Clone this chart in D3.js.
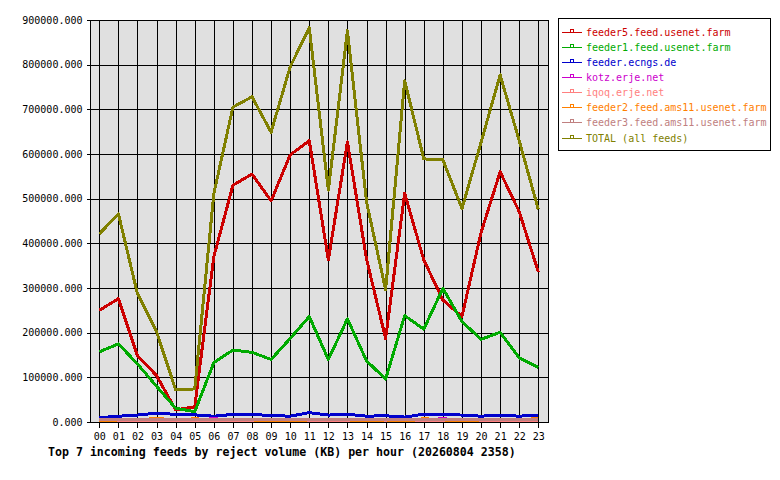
<!DOCTYPE html>
<html>
<head>
<meta charset="utf-8">
<script src="https://cdn.jsdelivr.net/npm/d3@7/dist/d3.min.js"></script>
<style>
  html, body { margin: 0; padding: 0; background: #fff; }
  svg { display: block; }
  text { font-family: "DejaVu Sans Mono", "Liberation Mono", monospace; }
</style>
</head>
<body>
<svg id="chart" width="780" height="480"></svg>
<script>
// ---- data ----
const hours = ["00","01","02","03","04","05","06","07","08","09","10","11",
               "12","13","14","15","16","17","18","19","20","21","22","23"];

const yTicks = [0, 100000, 200000, 300000, 400000, 500000, 600000, 700000, 800000, 900000];

const feedNames = [
  "feeder5.feed.usenet.farm",
  "feeder1.feed.usenet.farm",
  "feeder.ecngs.de",
  "kotz.erje.net",
  "iqoq.erje.net",
  "feeder2.feed.ams11.usenet.farm",
  "feeder3.feed.ams11.usenet.farm",
  "TOTAL (all feeds)"
];

const feedColors = ["#cc0000", "#00aa00", "#0000cc", "#cc00cc", "#ff8080", "#ff8000", "#c08080", "#808000"];

const feeder5 = [250000, 276000, 148000, 104000, 27000, 34000, 370000, 530000, 555000, 495000, 598000, 630000,
                 363000, 627000, 365000, 187000, 512000, 363000, 273000, 236000, 424000, 560000, 471000, 336000];
const feeder1 = [157000, 175000, 130000, 80000, 31000, 23000, 133000, 161000, 156000, 140000, 187000, 236000,
                 140000, 231000, 137000, 96000, 238000, 208000, 299000, 225000, 185000, 201000, 144000, 122000];
const ecngs   = [9500, 13000, 15500, 20000, 17000, 16000, 13000, 17000, 17000, 14500, 13000, 21000,
                 15500, 17500, 13000, 14000, 11000, 17500, 17500, 15500, 13000, 15500, 13000, 15500];
const kotz    = [3500, 3800, 3600, 3900, 3700, 3800, 7600, 3900, 3800, 3600, 3700, 3900,
                 3800, 3700, 3600, 3800, 3700, 3900, 7600, 3800, 3700, 3600, 3800, 3700];
const iqoq    = [3000, 3100, 2900, 3200, 3100, 3000, 3100, 3200, 3000, 3100, 2900, 3100,
                 3000, 3200, 3100, 3000, 3100, 2900, 3100, 3000, 3200, 3100, 3000, 3100];
const feeder2 = [1200, 4800, 4900, 7800, 4800, 7200, 4900, 4800, 4900, 1300, 1200, 4900,
                 4800, 4900, 1200, 4800, 1300, 7400, 4900, 1200, 4800, 4900, 4800, 7800];
const feeder3 = [5000, 4900, 5000, 4900, 5000, 4900, 5000, 4900, 5000, 4900, 5000, 4900,
                 5000, 4900, 5000, 4900, 5000, 4900, 5000, 4900, 5000, 4900, 5000, 4900];
const total   = [421000, 466000, 287000, 202000, 72000, 74000, 511000, 705000, 728000, 649000, 795000, 883000,
                 519000, 876000, 493000, 296000, 764000, 589000, 587000, 478000, 626000, 777000, 630000, 476000];

const titleText = "Top 7 incoming feeds by reject volume (KB) per hour (20260804 2358)";

const seriesList = [feeder5, feeder1, ecngs, kotz, iqoq, feeder2, feeder3, total];

// ---- layout ----
const plot = { left: 90, right: 548, top: 20, bottom: 422 };

const svg = d3.select("#chart");

const x = d3.scalePoint().domain(hours).range([99.3, 538.3]);
const y = d3.scaleLinear().domain([0, 900000]).range([plot.bottom, plot.top]);

// background
svg.append("rect")
  .attr("x", plot.left).attr("y", plot.top)
  .attr("width", plot.right - plot.left).attr("height", plot.bottom - plot.top)
  .attr("fill", "#e0e0e0");

// horizontal grid
svg.append("g").selectAll("line").data(yTicks).join("line")
  .attr("x1", plot.left).attr("x2", plot.right)
  .attr("y1", d => Math.round(y(d)) + 0.5).attr("y2", d => Math.round(y(d)) + 0.5)
  .attr("stroke", "#000").attr("stroke-width", 1).attr("shape-rendering", "crispEdges");

// vertical grid
svg.append("g").selectAll("line").data(hours).join("line")
  .attr("x1", d => Math.round(x(d)) + 0.5).attr("x2", d => Math.round(x(d)) + 0.5)
  .attr("y1", plot.top).attr("y2", plot.bottom)
  .attr("stroke", "#000").attr("stroke-width", 1).attr("shape-rendering", "crispEdges");

// axes with d3
const yAxis = d3.axisLeft(y).tickValues(yTicks).tickSize(4).tickPadding(4)
  .tickFormat(d => d3.format(".3f")(d));
const gy = svg.append("g").attr("transform", `translate(${plot.left + 0.5},0)`).call(yAxis);
gy.select(".domain").remove();
gy.selectAll("line").attr("shape-rendering", "crispEdges");
gy.selectAll("text").attr("font-size", "10px").attr("fill", "#000")
  .attr("font-family", "DejaVu Sans Mono");

const xAxis = d3.axisBottom(x).tickSize(5).tickPadding(5);
const gx = svg.append("g").attr("transform", `translate(0,${plot.bottom + 0.5})`).call(xAxis);
gx.select(".domain").remove();
gx.selectAll("line").attr("shape-rendering", "crispEdges");
gx.selectAll("text").attr("font-size", "10px").attr("fill", "#000")
  .attr("font-family", "DejaVu Sans Mono");

// data lines
const line = d3.line().x((d, i) => x(hours[i])).y(d => y(d));
seriesList.forEach((s, k) => {
  svg.append("path")
    .attr("d", line(s))
    .attr("fill", "none")
    .attr("stroke", feedColors[k])
    .attr("stroke-width", 3)
    .attr("stroke-linejoin", "round")
    .attr("shape-rendering", "crispEdges");
});

// frame
svg.append("rect")
  .attr("x", plot.left + 0.5).attr("y", plot.top + 0.5)
  .attr("width", plot.right - plot.left).attr("height", plot.bottom - plot.top)
  .attr("fill", "none").attr("stroke", "#000").attr("stroke-width", 1)
  .attr("shape-rendering", "crispEdges");

// legend
const lg = svg.append("g");
lg.append("rect")
  .attr("x", 558.5).attr("y", 18.5).attr("width", 212).attr("height", 132)
  .attr("fill", "#fff").attr("stroke", "#000").attr("stroke-width", 1)
  .attr("shape-rendering", "crispEdges");

feedNames.forEach((name, i) => {
  const cy = 31.5 + i * 15.15;
  const row = lg.append("g");
  row.append("line")
    .attr("x1", 562).attr("x2", 582).attr("y1", Math.round(cy) + 0.5).attr("y2", Math.round(cy) + 0.5)
    .attr("stroke", feedColors[i]).attr("stroke-width", 1).attr("shape-rendering", "crispEdges");
  row.append("path")
    .attr("d", `M570.5,${Math.round(cy) + 0.5}V${Math.round(cy) - 2.5}H573.5V${Math.round(cy) + 0.5}`)
    .attr("fill", "none").attr("stroke", feedColors[i]).attr("stroke-width", 1)
    .attr("shape-rendering", "crispEdges");
  row.append("text")
    .attr("x", 586).attr("y", cy + 4)
    .attr("font-size", "10px").attr("fill", feedColors[i])
    .text(name);
});

// title
svg.append("text")
  .attr("x", 48).attr("y", 456)
  .attr("font-size", "11.6px").attr("font-weight", "bold").attr("fill", "#000")
  .text(titleText);
</script>
</body>
</html>
